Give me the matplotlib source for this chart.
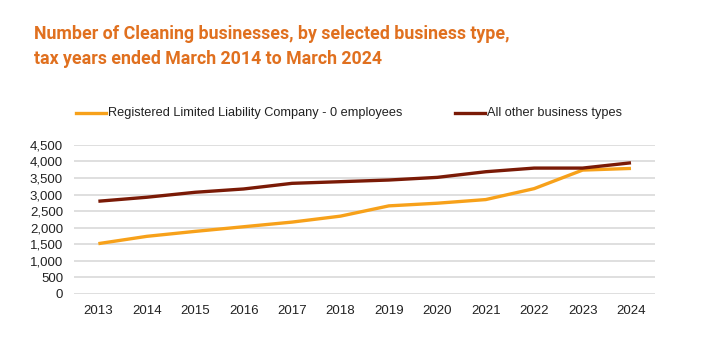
import matplotlib
matplotlib.use("Agg")
import matplotlib.pyplot as plt
from matplotlib.ticker import FuncFormatter

# ── Data ──────────────────────────────────────────────────────────────────────
years = [2013, 2014, 2015, 2016, 2017, 2018, 2019, 2020, 2021, 2022, 2023, 2024]
llc_zero_emp = [1520, 1740, 1890, 2030, 2170, 2350, 2660, 2740, 2850, 3180, 3740, 3790]
other_types = [2800, 2920, 3070, 3170, 3340, 3390, 3440, 3520, 3690, 3800, 3800, 3960]

series_labels = ["Registered Limited Liability Company - 0 employees",
                 "All other business types"]
title_lines = ["Number of Cleaning businesses, by selected business type,",
               "tax years ended March 2014 to March 2024"]

ORANGE = "#F7A11A"
DARK = "#7A1A06"
TITLE_COL = "#E0701F"
GRID = "#D9D9D9"

plt.rcParams["font.family"] = ["Liberation Sans", "DejaVu Sans"]

fig = plt.figure(figsize=(7.2, 3.5), dpi=100)
ax = fig.add_axes([0.103, 0.16, 0.807, 0.426])

ax.plot(years, llc_zero_emp, color=ORANGE, lw=2.4, solid_capstyle="butt")
ax.plot(years, other_types, color=DARK, lw=2.4, solid_capstyle="butt")

ax.set_xlim(years[0] - 0.5, years[-1] + 0.5)
ax.set_ylim(0, 4500)
ax.set_yticks(range(0, 4501, 500))
ax.set_xticks(years)
ax.yaxis.set_major_formatter(FuncFormatter(lambda v, _: f"{int(v):,}"))
ax.grid(axis="y", color=GRID, lw=1.2)
ax.set_axisbelow(True)
for s in ax.spines.values():
    s.set_visible(False)
ax.tick_params(length=0, labelsize=9.5, colors="#222222")
ax.tick_params(axis="x", pad=8)
ax.tick_params(axis="y", pad=8)

# legend row above the plot
for x0, lab, col in [(76, series_labels[0], ORANGE), (455, series_labels[1], DARK)]:
    fig.add_artist(plt.Line2D([x0 / 720, (x0 + 30) / 720], [1 - 113 / 350] * 2,
                              color=col, lw=2.4, transform=fig.transFigure))
    fig.text((x0 + 32) / 720, 1 - 113 / 350, lab, fontsize=9.2, color="#222222",
             va="center", ha="left")

fig.text(34 / 720, 1 - 34 / 350, title_lines[0], fontsize=12.8, color=TITLE_COL,
         family="Roboto", fontweight="bold", va="center", ha="left")
fig.text(34 / 720, 1 - 59 / 350, title_lines[1], fontsize=12.8, color=TITLE_COL,
         family="Roboto", fontweight="bold", va="center", ha="left")

fig.savefig("out.png", dpi=100)
